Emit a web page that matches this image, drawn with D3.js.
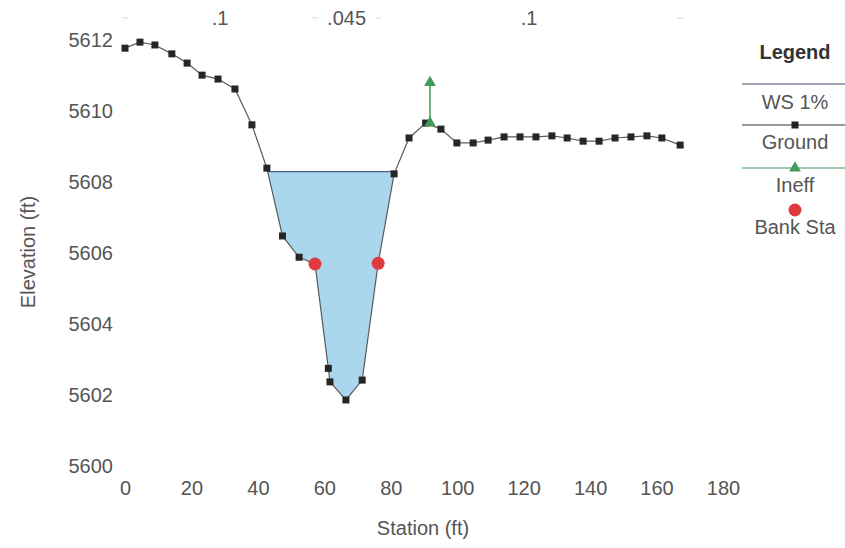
<!DOCTYPE html>
<html><head><meta charset="utf-8">
<script src="https://cdn.jsdelivr.net/npm/d3@7"></script>
<style>body{margin:0;background:#fff;} svg{display:block;} text{font-family:"Liberation Sans",Arial,sans-serif;}</style>
</head><body>
<svg id="c" width="845" height="548"></svg>
<script>
const groundSta  = [0, 4.5, 9.0, 14.1, 18.7, 23.2, 28.0, 33.1, 38.2, 42.7, 47.4, 52.4, 57.2, 61.2, 61.7, 66.5, 71.4, 76.2, 81.0, 85.5, 90.5, 95.1, 99.9, 104.8, 109.3, 114.1, 118.9, 123.7, 128.5, 133.1, 137.9, 142.7, 147.5, 152.3, 157.1, 161.6, 167.1];
const groundElev = [5611.77, 5611.94, 5611.86, 5611.61, 5611.35, 5611.01, 5610.90, 5610.62, 5609.61, 5608.39, 5606.48, 5605.88, 5605.69, 5602.75, 5602.37, 5601.86, 5602.42, 5605.71, 5608.23, 5609.24, 5609.66, 5609.49, 5609.10, 5609.10, 5609.18, 5609.27, 5609.27, 5609.27, 5609.30, 5609.24, 5609.15, 5609.15, 5609.24, 5609.27, 5609.30, 5609.24, 5609.04];
const wsElev = 5608.29;
const bankSta = [57.2, 76.2];
const bankElev = [5605.69, 5605.71];
const ineffSta = [91.8];
const ineffBase = [5609.66];
const ineffTop = [5610.8];
const nValues = [".1", ".045", ".1"];
const nBreaks = [0, 57.2, 76.2, 167.1];
const xTicks = [0, 20, 40, 60, 80, 100, 120, 140, 160, 180];
const yTicks = [5600, 5602, 5604, 5606, 5608, 5610, 5612];
const legendLabels = ["WS 1%", "Ground", "Ineff", "Bank Sta"];

const svg = d3.select("#c");
const x = d3.scaleLinear().domain([0, 180]).range([125, 723]);
const y = d3.scaleLinear().domain([5600, 5612]).range([466, 40]);
const textCol = "#555";
const fs = 20;

// water polygon: clip ground below WS
const pts = groundSta.map((s, i) => [s, groundElev[i]]);
let poly = [];
for (let i = 0; i < pts.length - 1; i++) {
  const [s0, e0] = pts[i], [s1, e1] = pts[i + 1];
  const in0 = e0 <= wsElev, in1 = e1 <= wsElev;
  if (in0) poly.push([s0, e0]);
  if (in0 !== in1) {
    const t = (wsElev - e0) / (e1 - e0);
    poly.push([s0 + t * (s1 - s0), wsElev]);
  }
}
svg.append("path")
  .attr("d", d3.line().x(d => x(d[0])).y(d => y(d[1]))(poly) + "Z")
  .attr("fill", "#aad7ee").attr("stroke", "none");
const wsL = poly[0][0], wsR = poly[poly.length - 1][0];
svg.append("line").attr("x1", x(wsL)).attr("x2", x(wsR)).attr("y1", y(wsElev)).attr("y2", y(wsElev))
  .attr("stroke", "#44618a").attr("stroke-width", 1.3);

// ground
svg.append("path").attr("d", d3.line().x(d => x(d[0])).y(d => y(d[1]))(pts))
  .attr("fill", "none").attr("stroke", "#5a5a5a").attr("stroke-width", 1.2);
svg.selectAll("rect.g").data(pts).join("rect").attr("class", "g")
  .attr("x", d => x(d[0]) - 3.5).attr("y", d => y(d[1]) - 3.5).attr("width", 7).attr("height", 7)
  .attr("fill", "#262626");

// ineff
const tri = d3.symbol().type(d3.symbolTriangle).size(60);
ineffSta.forEach((s, i) => {
  svg.append("line").attr("x1", x(s)).attr("x2", x(s)).attr("y1", y(ineffBase[i])).attr("y2", y(ineffTop[i]))
    .attr("stroke", "#3f9a5c").attr("stroke-width", 1.5);
  [ineffBase[i], ineffTop[i]].forEach(e => {
    svg.append("path").attr("d", tri).attr("transform", `translate(${x(s)},${y(e)})`).attr("fill", "#3f9a5c");
  });
});

// bank stations
svg.selectAll("circle.b").data(bankSta).join("circle").attr("class", "b")
  .attr("cx", d => x(d)).attr("cy", (d, i) => y(bankElev[i])).attr("r", 6.5).attr("fill", "#e0393e");

// top n values
nBreaks.forEach(s => {
  svg.append("line").attr("x1", x(s) - 3).attr("x2", x(s) + 3).attr("y1", 18).attr("y2", 18)
    .attr("stroke", "#d8d8d8").attr("stroke-width", 1);
});
nValues.forEach((v, i) => {
  svg.append("text").attr("x", x((nBreaks[i] + nBreaks[i + 1]) / 2)).attr("y", 25)
    .attr("text-anchor", "middle").attr("font-size", fs).attr("fill", textCol).text(v);
});

// axes (no lines)
const xAxis = svg.append("g").attr("transform", "translate(0,488)")
  .call(d3.axisBottom(x).tickValues(xTicks).tickSize(0).tickPadding(0).tickFormat(d3.format("d")));
xAxis.select(".domain").remove();
xAxis.selectAll("text").attr("font-size", fs).attr("fill", textCol).attr("dy", "0.35em").attr("font-family", null);
const yAxis = svg.append("g").attr("transform", "translate(113,0)")
  .call(d3.axisLeft(y).tickValues(yTicks).tickSize(0).tickPadding(0).tickFormat(d3.format("d")));
yAxis.select(".domain").remove();
yAxis.selectAll("text").attr("font-size", fs).attr("fill", textCol).attr("font-family", null);

svg.append("text").attr("x", 423).attr("y", 535).attr("text-anchor", "middle")
  .attr("font-size", fs).attr("fill", textCol).text("Station (ft)");
svg.append("text").attr("transform", "translate(35,252) rotate(-90)").attr("text-anchor", "middle")
  .attr("font-size", fs).attr("fill", textCol).text("Elevation (ft)");

// legend
const lg = svg.append("g");
const lx0 = 742, lx1 = 845, lc = 795;
lg.append("text").attr("x", lc).attr("y", 59).attr("text-anchor", "middle").attr("font-size", fs)
  .attr("font-weight", "bold").attr("fill", "#333").text("Legend");
const rowY = [84, 125, 168, 210];
const rowStroke = ["#3a4a60", "#333", "#3f9a5c", null];
legendLabels.forEach((lab, i) => {
  const yy = rowY[i];
  if (rowStroke[i]) lg.append("line").attr("x1", lx0).attr("x2", lx1).attr("y1", yy).attr("y2", yy)
    .attr("stroke", rowStroke[i]).attr("stroke-width", 1.2);
  if (i === 1) lg.append("rect").attr("x", lc - 3.5).attr("y", yy - 3.5).attr("width", 7).attr("height", 7).attr("fill", "#222");
  if (i === 2) lg.append("path").attr("d", tri).attr("transform", `translate(${lc},${yy})`).attr("fill", "#3f9a5c");
  if (i === 3) lg.append("circle").attr("cx", lc).attr("cy", yy).attr("r", 6.5).attr("fill", "#e0393e");
  lg.append("text").attr("x", lc).attr("y", yy + (i === 0 ? 25 : 24)).attr("text-anchor", "middle").attr("font-size", fs)
    .attr("fill", textCol).text(lab);
});
</script>
</body></html>
